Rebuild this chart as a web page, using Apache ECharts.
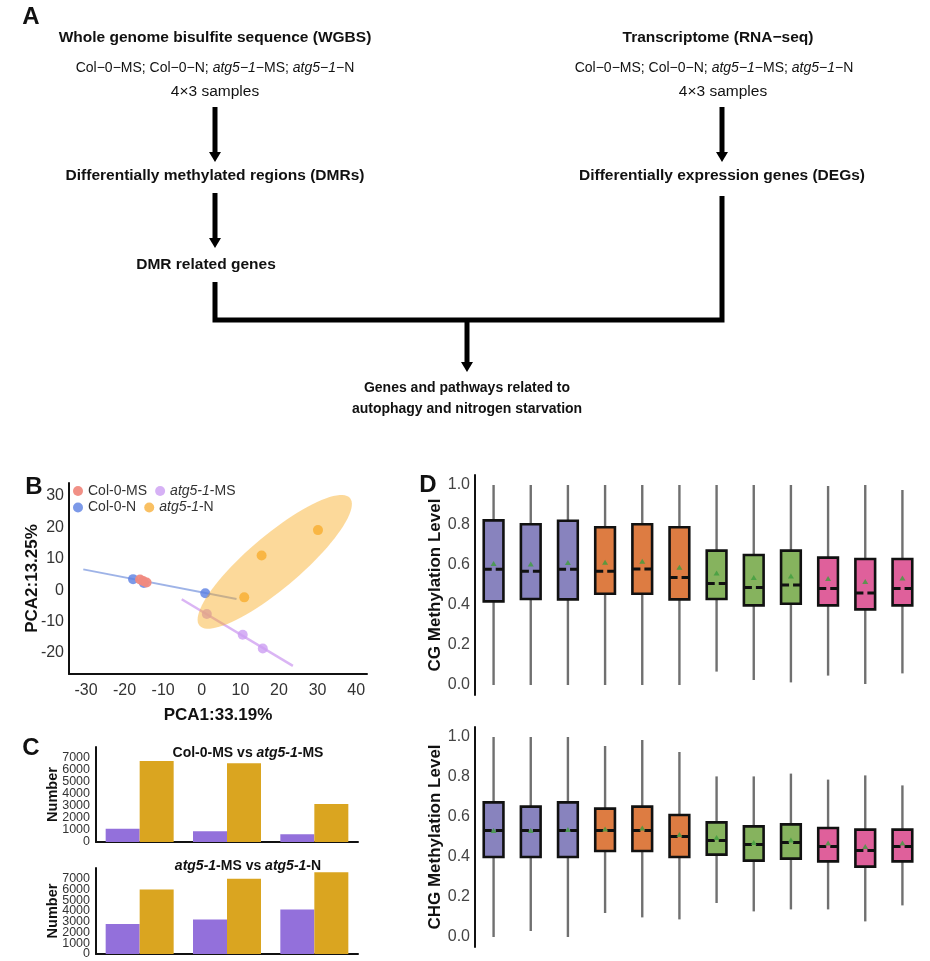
<!DOCTYPE html>
<html><head><meta charset="utf-8">
<script src="https://cdn.jsdelivr.net/npm/echarts@6/dist/echarts.min.js"></script>
<style>html,body{margin:0;padding:0;background:#fff}#c{width:930px;height:961px}</style>
</head><body><div id="c"></div>
<script>
// ---------------- Panel B : PCA ----------------
const pcaCol0MS = [[-16.0, 3.4], [-15.2, 2.9], [-14.3, 2.4]];
const pcaCol0N  = [[-17.8, 3.5], [-15.0, 2.3], [0.9, -1.0]];
const pcaAtgMS  = [[1.3, -7.6], [10.6, -14.2], [15.8, -18.6]];
const pcaAtgN   = [[11.0, -2.3], [15.5, 11.0], [30.1, 19.1]];
const col0Trend  = [[-30.7, 6.6], [9.0, -2.8]];
const atgMSTrend = [[-5.2, -2.9], [23.6, -24.1]];
const ellipseCenter = [18.9, 9.0];
const ellipseMajor  = [19.5, 20.3];
const ellipseMinor  = [4.4, -6.4];
const pcaXTicks = [-30, -20, -10, 0, 10, 20, 30, 40];
const pcaYTicks = [-20, -10, 0, 10, 20, 30];

// ---------------- Panel C : DMR numbers ----------------
const dmrCategories = ['CG', 'CHG', 'CHH'];
const msPurple = [1100, 880, 640];
const msGold   = [6700, 6500, 3150];
const nPurple  = [2800, 3200, 4150];
const nGold    = [6000, 7000, 7600];
const numTicks = [1000, 2000, 3000, 4000, 5000, 6000, 7000];
const zeroTick = [0];

// ---------------- Panel D : methylation levels ----------------
const samples = ['Col-0-MS-1','Col-0-MS-2','Col-0-MS-3','Col-0-N-1','Col-0-N-2','Col-0-N-3',
                 'atg5-1-MS-1','atg5-1-MS-2','atg5-1-MS-3','atg5-1-N-1','atg5-1-N-2','atg5-1-N-3'];
// [min, q1, median, q3, max]
const cgBoxes = [
  [0.000, 0.418, 0.579, 0.823, 1.000],
  [0.000, 0.430, 0.569, 0.804, 1.000],
  [0.000, 0.428, 0.579, 0.821, 1.000],
  [0.000, 0.456, 0.569, 0.789, 1.000],
  [0.000, 0.456, 0.580, 0.804, 1.000],
  [0.000, 0.428, 0.538, 0.789, 1.000],
  [0.067, 0.430, 0.508, 0.672, 1.000],
  [0.025, 0.398, 0.488, 0.650, 1.000],
  [0.013, 0.406, 0.500, 0.672, 1.000],
  [0.047, 0.398, 0.482, 0.637, 0.995],
  [0.005, 0.378, 0.460, 0.630, 1.000],
  [0.058, 0.398, 0.482, 0.630, 0.975]
];
const cgMeans = [0.607, 0.605, 0.612, 0.614, 0.619, 0.589, 0.560, 0.538, 0.545, 0.533, 0.517, 0.535];
const chgBoxes = [
  [0.000, 0.400, 0.533, 0.673, 1.000],
  [0.030, 0.400, 0.533, 0.652, 1.000],
  [0.000, 0.400, 0.533, 0.673, 1.000],
  [0.120, 0.430, 0.533, 0.642, 0.955],
  [0.098, 0.430, 0.533, 0.652, 0.985],
  [0.088, 0.400, 0.502, 0.610, 0.925],
  [0.170, 0.412, 0.483, 0.573, 0.803],
  [0.128, 0.382, 0.462, 0.553, 0.803],
  [0.138, 0.392, 0.473, 0.563, 0.817],
  [0.138, 0.378, 0.452, 0.545, 0.787],
  [0.078, 0.352, 0.433, 0.537, 0.808],
  [0.158, 0.378, 0.452, 0.537, 0.758]
];
const chgMeans = [0.533, 0.532, 0.538, 0.540, 0.545, 0.513, 0.497, 0.472, 0.485, 0.470, 0.453, 0.470];
const methTicks = [0, 0.2, 0.4, 0.6, 0.8, 1.0];

// ---------------- styles ----------------
const FF = '"Liberation Sans", Arial, Helvetica, sans-serif';
const boxColors = ['#8883BE','#8883BE','#8883BE','#DD7C42','#DD7C42','#DD7C42',
                   '#86B35E','#86B35E','#86B35E','#DF609B','#DF609B','#DF609B'];
const AX = '#111';

function near(v, list){ return list.some(t => Math.abs(t - v) < 1e-6); }

const chart = echarts.init(document.getElementById('c'), null, {renderer: 'canvas'});

// ---------- graphic (flowchart, panel letters, C titles) ----------
function txt(x, y, text, size, bold, rich){
  const s = {text: text, fontSize: size, fontWeight: bold ? 'bold' : 'normal', fontFamily: FF,
             fill: '#111', align: 'center', verticalAlign: 'middle'};
  if (rich) s.rich = rich;
  return {type: 'text', x: x, y: y, style: s, silent: true};
}
function arrow(x, y1, y2){
  return [
    {type: 'line', shape: {x1: x, y1: y1, x2: x, y2: y2 - 8}, style: {stroke: '#000', lineWidth: 5}},
    {type: 'polygon', shape: {points: [[x - 6, y2 - 10], [x + 6, y2 - 10], [x, y2]]}, style: {fill: '#000'}}
  ];
}
const itRich = {i: {fontStyle: 'italic', fontSize: 14, fontFamily: FF, fill: '#111'}};
const bRich = {
  b: {fontWeight: 'bold', fontSize: 14, fontFamily: FF, fill: '#111'},
  bi: {fontWeight: 'bold', fontStyle: 'italic', fontSize: 14, fontFamily: FF, fill: '#111'}
};
const graphics = [].concat(
  [
    txt(31, 17, 'A', 24, true),
    txt(34, 487, 'B', 24, true),
    txt(31, 748, 'C', 24, true),
    txt(428, 485, 'D', 24, true),
    txt(215, 38, 'Whole genome bisulfite sequence (WGBS)', 15.5, true),
    txt(215, 68, 'Col\u22120\u2212MS; Col\u22120\u2212N; {i|atg5\u22121}\u2212MS; {i|atg5\u22121}\u2212N', 14, false, itRich),
    txt(215, 92, '4\u00d73 samples', 15.5, false),
    txt(215, 176, 'Differentially methylated regions (DMRs)', 15.5, true),
    txt(206, 265, 'DMR related genes', 15.5, true),
    txt(718, 38, 'Transcriptome (RNA\u2212seq)', 15.5, true),
    txt(714, 68, 'Col\u22120\u2212MS; Col\u22120\u2212N; {i|atg5\u22121}\u2212MS; {i|atg5\u22121}\u2212N', 14, false, itRich),
    txt(723, 92, '4\u00d73 samples', 15.5, false),
    txt(722, 176, 'Differentially expression genes (DEGs)', 15.5, true),
    txt(467, 388, 'Genes and pathways related to', 14, true),
    txt(467, 409, 'autophagy and nitrogen starvation', 14, true),
    {type: 'polyline', shape: {points: [[215, 282], [215, 320], [722, 320], [722, 196]]},
     style: {stroke: '#000', lineWidth: 5, fill: null, lineJoin: 'miter'}},
    txt(248, 753, '{b|Col-0-MS vs }{bi|atg5-1}{b|-MS}', 14, true, bRich),
    txt(248, 866, '{bi|atg5-1}{b|-MS vs }{bi|atg5-1}{b|-N}', 14, true, bRich)
  ],
  arrow(215, 107, 162),
  arrow(215, 193, 248),
  arrow(722, 107, 162),
  arrow(467, 320, 372)
);

// ---------- custom renderers ----------
function ellipseRender(params, api){
  const pts = [];
  const n = 90;
  for (let k = 0; k < n; k++){
    const t = k / n * Math.PI * 2;
    const x = ellipseCenter[0] + ellipseMajor[0] * Math.cos(t) + ellipseMinor[0] * Math.sin(t);
    const y = ellipseCenter[1] + ellipseMajor[1] * Math.cos(t) + ellipseMinor[1] * Math.sin(t);
    pts.push(api.coord([x, y]));
  }
  return {type: 'polygon', shape: {points: pts}, style: {fill: 'rgba(248,170,30,0.45)'}};
}
function boxRender(params, api){
  const i = api.value(0);
  const pMin = api.coord([i, api.value(1)]);
  const pQ1  = api.coord([i, api.value(2)]);
  const pMed = api.coord([i, api.value(3)]);
  const pQ3  = api.coord([i, api.value(4)]);
  const pMax = api.coord([i, api.value(5)]);
  const bw = api.size([1, 0])[0] * 0.53;
  const x = pMin[0];
  return {type: 'group', children: [
    {type: 'line', shape: {x1: x, y1: pMax[1], x2: x, y2: pMin[1]}, style: {stroke: '#707070', lineWidth: 2.4}},
    {type: 'rect', shape: {x: x - bw / 2, y: pQ3[1], width: bw, height: pQ1[1] - pQ3[1]},
     style: {fill: boxColors[i], stroke: '#111', lineWidth: 2.6}},
    {type: 'line', shape: {x1: x - bw / 2, y1: pMed[1], x2: x + bw / 2, y2: pMed[1]},
     style: {stroke: '#111', lineWidth: 3, lineDash: [8, 4]}}
  ]};
}
const boxData = arr => arr.map((b, i) => [i].concat(b));
const meanData = arr => arr.map((m, i) => [i, m]);

// ---------- axes ----------
const lbl = (size, color) => ({fontSize: size, color: color, fontFamily: FF});
const axisLineStyle = {show: true, lineStyle: {color: AX, width: 2}};
const bold = (size) => ({fontSize: size, fontWeight: 'bold', color: '#111', fontFamily: FF});

const xAxes = [
  {gridIndex: 0, type: 'value', min: -34.4, max: 42.8, splitNumber: 8,
   axisLine: Object.assign({onZero: false}, axisLineStyle), axisTick: {show: false}, splitLine: {show: false},
   axisLabel: Object.assign({margin: 9, formatter: v => near(v, pcaXTicks) ? String(Math.round(v)) : ''}, lbl(16, '#333')),
   name: 'PCA1:33.19%', nameLocation: 'middle', nameGap: 33, nameMoveOverlap: false, nameTextStyle: bold(17)},
  {gridIndex: 1, type: 'category', data: dmrCategories, axisLine: axisLineStyle, axisTick: {show: false}, axisLabel: {show: false}},
  {gridIndex: 2, type: 'category', data: dmrCategories, axisLine: axisLineStyle, axisTick: {show: false}, axisLabel: {show: false}},
  {gridIndex: 3, type: 'category', data: samples, show: true, axisLine: {show: false}, axisTick: {show: false}, axisLabel: {show: false}},
  {gridIndex: 4, type: 'category', data: samples, show: true, axisLine: {show: false}, axisTick: {show: false}, axisLabel: {show: false}}
];
const numFmt = v => (near(v, numTicks) ? String(Math.round(v)) : '');
const zeroFmt = v => (near(v, zeroTick) ? '0' : '');
const methFmt = v => (near(v, methTicks) ? v.toFixed(1) : '');
function numberAxis(grid, max, withName, fmt){
  const a = {gridIndex: grid, type: 'value', position: 'left', min: 0, max: max, interval: 1000,
    axisLine: withName ? axisLineStyle : {show: false}, axisTick: {show: false}, splitLine: {show: false},
    axisLabel: Object.assign({margin: 6, formatter: fmt, showMinLabel: true, showMaxLabel: true, hideOverlap: false}, lbl(12.5, '#333'))};
  if (withName) Object.assign(a, {name: 'Number', nameLocation: 'middle', nameGap: 35.5, nameMoveOverlap: false,
                                  nameTextStyle: bold(14.5)});
  return a;
}
const yAxes = [
  {gridIndex: 0, type: 'value', min: -26.7, max: 34.1, splitNumber: 6,
   axisLine: Object.assign({onZero: false}, axisLineStyle), axisTick: {show: false}, splitLine: {show: false},
   axisLabel: Object.assign({margin: 5, formatter: v => near(v, pcaYTicks) ? String(Math.round(v)) : ''}, lbl(16, '#333')),
   name: 'PCA2:13.25%', nameLocation: 'middle', nameGap: 28, nameMoveOverlap: false, nameTextStyle: bold(17)},
  numberAxis(1, 7850, true, numFmt),
  numberAxis(2, 8000, true, numFmt),
  {gridIndex: 3, type: 'value', min: -0.05, max: 1.05, splitNumber: 5,
   axisLine: axisLineStyle, axisTick: {show: false}, splitLine: {show: false},
   axisLabel: Object.assign({margin: 5, formatter: methFmt}, lbl(16, '#444')),
   name: 'CG Methylation Level', nameLocation: 'middle', nameGap: 31, nameMoveOverlap: false, nameTextStyle: bold(17)},
  {gridIndex: 4, type: 'value', min: -0.05, max: 1.05, splitNumber: 5,
   axisLine: axisLineStyle, axisTick: {show: false}, splitLine: {show: false},
   axisLabel: Object.assign({margin: 5, formatter: methFmt}, lbl(16, '#444')),
   name: 'CHG Methylation Level', nameLocation: 'middle', nameGap: 31, nameMoveOverlap: false, nameTextStyle: bold(17)},
  numberAxis(1, 7850, false, zeroFmt),
  numberAxis(2, 8000, false, zeroFmt)
];

// ---------- legend ----------
const legFmt = name => name.indexOf('atg5-1') === 0
  ? '{i|atg5-1}{n|' + name.slice(6) + '}'
  : '{w|' + name + '}';
const legRich = {
  w: {width: 63, fontSize: 14, fontFamily: FF, color: '#333'},
  i: {fontStyle: 'italic', fontSize: 14, fontFamily: FF, color: '#333'},
  n: {fontSize: 14, fontFamily: FF, color: '#333'}
};
const legBase = {left: 73, padding: 0, itemWidth: 10, itemHeight: 10, itemGap: 8, icon: 'circle',
                 formatter: legFmt, textStyle: {fontSize: 14, fontFamily: FF, color: '#333', rich: legRich}};

const option = {
  animation: false,
  backgroundColor: '#fff',
  graphic: graphics,
  grid: [
    {left: 69, top: 483, width: 298, height: 191},
    {left: 96, top: 747, width: 262, height: 95},
    {left: 96, top: 868, width: 262, height: 86},
    {left: 475, top: 475, width: 446, height: 220},
    {left: 475, top: 727, width: 446, height: 220}
  ],
  legend: [
    Object.assign({top: 484, data: ['Col-0-MS', 'atg5-1-MS']}, legBase),
    Object.assign({top: 500.5, data: ['Col-0-N', 'atg5-1-N']}, legBase)
  ],
  xAxis: xAxes,
  yAxis: yAxes,
  series: [
    // Panel B
    {type: 'line', name: 'col0trend', xAxisIndex: 0, yAxisIndex: 0, data: col0Trend, symbol: 'none',
     lineStyle: {color: '#8DA6E3', width: 2, opacity: 0.85}, z: 1},
    {type: 'line', name: 'atgMStrend', xAxisIndex: 0, yAxisIndex: 0, data: atgMSTrend, symbol: 'none',
     lineStyle: {color: '#D6ADF3', width: 2.5, opacity: 0.9}, z: 1},
    {type: 'scatter', name: 'Col-0-N', xAxisIndex: 0, yAxisIndex: 0, data: pcaCol0N, symbolSize: 10,
     itemStyle: {color: '#5B7FE2'}},
    {type: 'scatter', name: 'Col-0-MS', xAxisIndex: 0, yAxisIndex: 0, data: pcaCol0MS, symbolSize: 10,
     itemStyle: {color: '#F08A80', opacity: 0.95}},
    {type: 'scatter', name: 'atg5-1-MS', xAxisIndex: 0, yAxisIndex: 0, data: pcaAtgMS, symbolSize: 10,
     itemStyle: {color: '#CC9EF3'}},
    {type: 'scatter', name: 'atg5-1-N', xAxisIndex: 0, yAxisIndex: 0, data: pcaAtgN, symbolSize: 10,
     itemStyle: {color: '#F8B03C'}},
    {type: 'custom', name: 'ellipse', xAxisIndex: 0, yAxisIndex: 0, data: [ellipseCenter],
     renderItem: ellipseRender, z: 3, silent: true},
    // Panel C
    {type: 'bar', name: 'msPurple', xAxisIndex: 1, yAxisIndex: 1, data: msPurple, barWidth: 34, barGap: '0%',
     itemStyle: {color: '#9370DB'}},
    {type: 'bar', name: 'msGold', xAxisIndex: 1, yAxisIndex: 1, data: msGold, barWidth: 34, barGap: '0%',
     itemStyle: {color: '#DAA520'}},
    {type: 'bar', name: 'nPurple', xAxisIndex: 2, yAxisIndex: 2, data: nPurple, barWidth: 34, barGap: '0%',
     itemStyle: {color: '#9370DB'}},
    {type: 'bar', name: 'nGold', xAxisIndex: 2, yAxisIndex: 2, data: nGold, barWidth: 34, barGap: '0%',
     itemStyle: {color: '#DAA520'}},
    // Panel D
    {type: 'custom', name: 'cg', xAxisIndex: 3, yAxisIndex: 3, data: boxData(cgBoxes),
     encode: {x: 0, y: [1, 2, 3, 4, 5]}, renderItem: boxRender, z: 2},
    {type: 'scatter', name: 'cgMean', xAxisIndex: 3, yAxisIndex: 3, data: meanData(cgMeans),
     symbol: 'triangle', symbolSize: [6, 5], itemStyle: {color: '#3F9E3F'}, z: 4},
    {type: 'custom', name: 'chg', xAxisIndex: 4, yAxisIndex: 4, data: boxData(chgBoxes),
     encode: {x: 0, y: [1, 2, 3, 4, 5]}, renderItem: boxRender, z: 2},
    {type: 'scatter', name: 'chgMean', xAxisIndex: 4, yAxisIndex: 4, data: meanData(chgMeans),
     symbol: 'triangle', symbolSize: [6, 5], itemStyle: {color: '#3F9E3F'}, z: 4}
  ]
};
chart.setOption(option);
</script>
</body></html>
